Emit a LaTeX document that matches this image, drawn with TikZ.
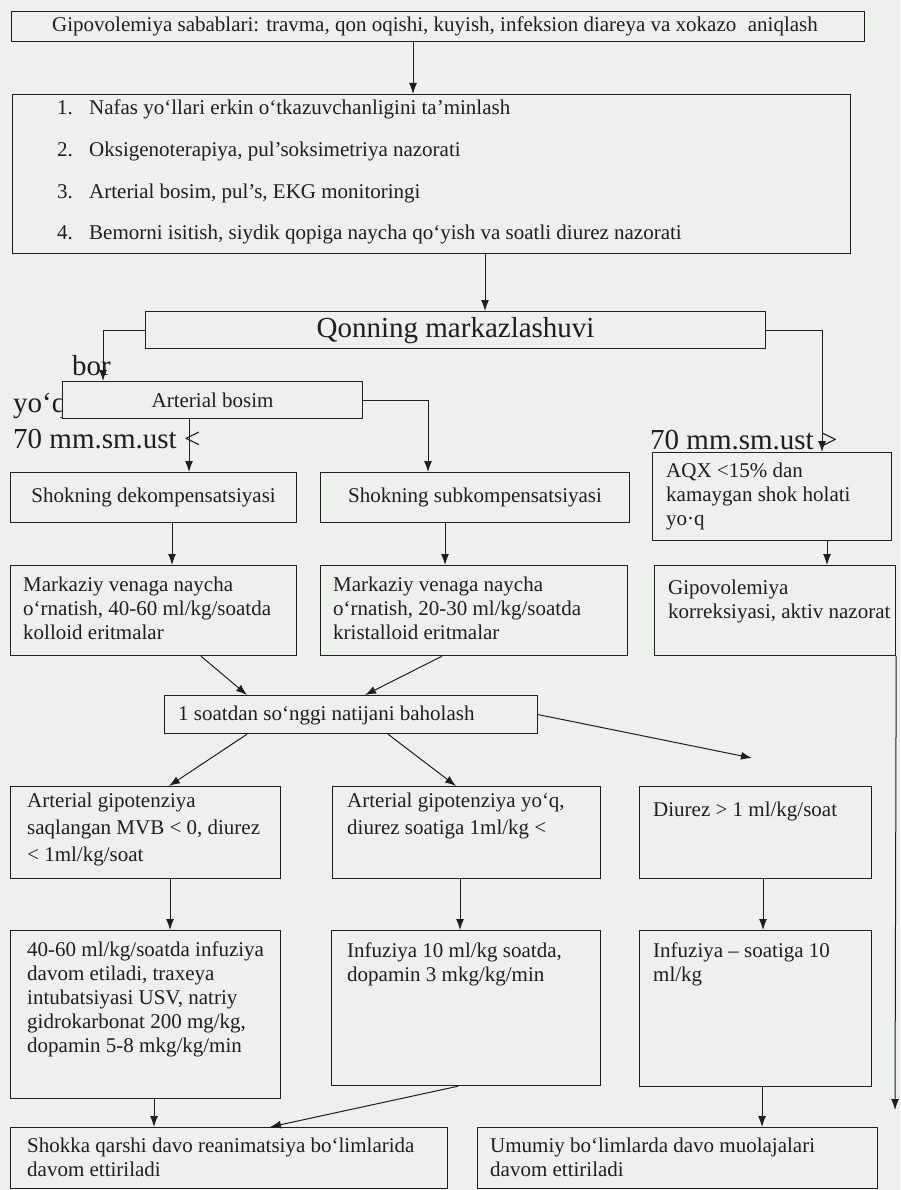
\documentclass[tikz,border=0pt]{standalone}
\usepackage{fontspec}
\setmainfont{Liberation Serif}
\usetikzlibrary{arrows.meta,calc}
\definecolor{paper}{RGB}{238,240,237}
\definecolor{ink}{RGB}{30,30,30}
\begin{document}
\begin{tikzpicture}[x=1pt,y=-1pt,
  box/.style={draw=ink,line width=1.2pt,rectangle,inner sep=0pt,anchor=north west},
  txt/.style={text=ink,font=\fontsize{21}{24}\selectfont,align=left,inner sep=0pt,anchor=north west,execute at begin node=\strut},
  txtw/.style={txt,font=\fontsize{21}{27}\selectfont},
  mid/.style={text=ink,font=\fontsize{21}{24}\selectfont},
  big/.style={text=ink,font=\fontsize{29}{34}\selectfont,inner sep=0pt,anchor=base west},
  arr/.style={draw=ink,line width=1pt,-{Latex[length=11pt,width=8pt]}},
]
\useasboundingbox (0,0) rectangle (900,1190);
\fill[paper] (0,0) rectangle (900,1190);

% --- causes and first aid ---
\node[box,minimum width=853pt,minimum height=30pt] (top) at (11,11) {};
\node[txt] (ttop) at (52,15) {Gipovolemiya sabablari: travma, qon oqishi, kuyish, infeksion diareya va xokazo\hspace{0.3em} aniqlash};

\node[box,minimum width=838pt,minimum height=159pt] (list) at (12,94) {};
\node[txt] (l1) at (57,98)  {\makebox[32pt][l]{1.}Nafas yo‘llari erkin o‘tkazuvchanligini ta’minlash};
\node[txt] (l2) at (57,140) {\makebox[32pt][l]{2.}Oksigenoterapiya, pul’soksimetriya nazorati};
\node[txt] (l3) at (57,182) {\makebox[32pt][l]{3.}Arterial bosim, pul’s, EKG monitoringi};
\node[txt] (l4) at (57,223) {\makebox[32pt][l]{4.}Bemorni isitish, siydik qopiga naycha qo‘yish va soatli diurez nazorati};

% --- centralisation of circulation ---
\node[box,minimum width=620pt,minimum height=37pt,font=\fontsize{29}{34}\selectfont,text=ink] (qon) at (145,311) {Qonning markazlashuvi};

\node[big] (bor) at (72,375) {bor};
\node[big] (yoq) at (13,412) {yo‘q};
\node[box,fill=paper,minimum width=300pt,minimum height=37pt,mid] (art) at (62,381) {Arterial bosim};
\node[big] (lt70) at (13,448) {70 mm.sm.ust <};
\node[big] (gt70) at (650,449) {70 mm.sm.ust >};

\node[box,minimum width=286pt,minimum height=50pt,mid] (dek) at (10,472) {Shokning dekompensatsiyasi};
\node[box,minimum width=309pt,minimum height=50pt,mid] (sub) at (320,472) {Shokning subkompensatsiyasi};
\node[box,minimum width=239pt,minimum height=88pt] (aqx) at (652,452) {};
\node[txt] (taqx) at (666,463) {AQX <15\% dan\\kamaygan shok holati\\yo·q};

% --- infusion start ---
\node[box,minimum width=286pt,minimum height=90pt] (r3a) at (10,565) {};
\node[txt] (t3a) at (23,577) {Markaziy venaga naycha\\o‘rnatish, 40-60 ml/kg/soatda\\kolloid eritmalar};
\node[box,minimum width=307pt,minimum height=90pt] (r3b) at (320,565) {};
\node[txt] (t3b) at (333,577) {Markaziy venaga naycha\\o‘rnatish, 20-30 ml/kg/soatda\\kristalloid eritmalar};
\node[box,minimum width=241pt,minimum height=90pt] (r3c) at (654,565) {};
\node[txt] (t3c) at (668,580) {Gipovolemiya\\korreksiyasi, aktiv nazorat};

% --- evaluation after one hour ---
\node[box,minimum width=373pt,minimum height=38pt] (eval) at (164,695) {};
\node[txt] (teval) at (178,703) {1 soatdan so‘nggi natijani baholash};

\node[box,minimum width=270pt,minimum height=92pt] (r4a) at (10,786) {};
\node[txtw] (t4a) at (27,793) {Arterial gipotenziya\\saqlangan MVB < 0, diurez\\< 1ml/kg/soat};
\node[box,minimum width=268pt,minimum height=92pt] (r4b) at (332,786) {};
\node[txtw] (t4b) at (347,793) {Arterial gipotenziya yo‘q,\\diurez soatiga 1ml/kg <};
\node[box,minimum width=232pt,minimum height=92pt] (r4c) at (639,786) {};
\node[txt] (t4c) at (653,799) {Diurez > 1 ml/kg/soat};

\node[box,minimum width=270pt,minimum height=168pt] (r5a) at (10,930) {};
\node[txt] (t5a) at (27,942) {40-60 ml/kg/soatda infuziya\\davom etiladi, traxeya\\intubatsiyasi USV, natriy\\gidrokarbonat 200 mg/kg,\\dopamin 5-8 mkg/kg/min};
\node[box,minimum width=269pt,minimum height=155pt] (r5b) at (331,930) {};
\node[txt] (t5b) at (347,943) {Infuziya 10 ml/kg soatda,\\dopamin 3 mkg/kg/min};
\node[box,minimum width=232pt,minimum height=156pt] (r5c) at (639,930) {};
\node[txt] (t5c) at (653,943) {Infuziya – soatiga 10\\ml/kg};

\node[box,minimum width=437pt,minimum height=61pt] (fa) at (10,1127) {};
\node[txt] (tfa) at (27,1138) {Shokka qarshi davo reanimatsiya bo‘limlarida\\davom ettiriladi};
\node[box,minimum width=400pt,minimum height=61pt] (fb) at (477,1127) {};
\node[txt] (tfb) at (490,1138) {Umumiy bo‘limlarda davo muolajalari\\davom ettiriladi};

\coordinate (d1) at (752,758);
\coordinate (d2) at (895,1110);

% --- connectors ---
\draw[arr] ($(top.south west)+(402,0)$) -- ($(list.north west)+(401,0)$);
\draw[arr] ($(list.south west)+(473,0)$) -- ($(qon.north west)+(340,0)$);
\draw[arr] (qon.west) -| ($(art.north west)+(41,0)$);
\draw[arr] ($(art.south west)+(127,0)$) -- ($(dek.north west)+(179,0)$);
\draw[arr] (art.east) -| ($(sub.north west)+(108,0)$);
\draw[arr] (qon.east) -| ($(aqx.north west)+(170,0)$);
\draw[arr] ($(dek.south west)+(162,0)$) -- ($(r3a.north west)+(162,0)$);
\draw[arr] ($(sub.south west)+(125,0)$) -- ($(r3b.north west)+(125,0)$);
\draw[arr] ($(aqx.south west)+(175,0)$) -- ($(r3c.north west)+(173,0)$);
\draw[arr] ($(r3a.south west)+(191,0)$) -- ($(eval.north west)+(83,0)$);
\draw[arr] ($(r3b.south west)+(122,0)$) -- ($(eval.north west)+(201,0)$);
\draw[arr] ($(eval.south west)+(83,0)$) -- ($(r4a.north west)+(159,0)$);
\draw[arr] ($(eval.south west)+(224,0)$) -- ($(r4b.north west)+(124,0)$);
\draw[arr] (eval.east) -- (d1);
\draw[arr] ($(r4a.south west)+(160,0)$) -- ($(r5a.north west)+(160,0)$);
\draw[arr] ($(r4b.south west)+(128,0)$) -- ($(r5b.north west)+(129,0)$);
\draw[arr] ($(r4c.south west)+(124,0)$) -- ($(r5c.north west)+(124,0)$);
\draw[arr] ($(r5a.south west)+(144,0)$) -- ($(fa.north west)+(144,0)$);
\draw[arr] ($(r5b.south west)+(127,0)$) -- ($(fa.north west)+(260,0)$);
\draw[arr] ($(r5c.south west)+(123,0)$) -- ($(fb.north west)+(285,0)$);
\draw[arr] (r3c.south east) -- (d2);
\end{tikzpicture}
\end{document}
